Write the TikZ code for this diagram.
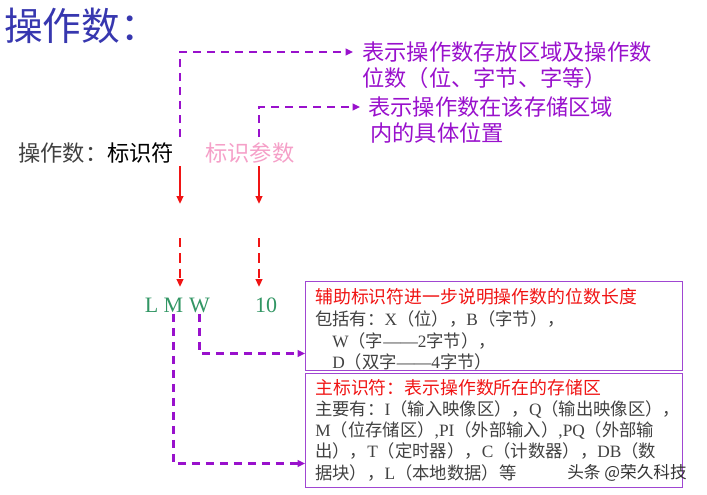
\documentclass[tikz,border=0pt]{standalone}
\usepackage{fontspec}
\setmainfont{Noto Sans CJK SC}
\newfontfamily\latf{Liberation Serif}
\usetikzlibrary{arrows.meta,calc}
\definecolor{ttlblue}{RGB}{55,55,175}
\definecolor{vio}{RGB}{153,17,204}
\definecolor{rd}{RGB}{240,20,20}
\definecolor{pk}{RGB}{245,160,200}
\definecolor{gr}{RGB}{50,150,100}
\definecolor{boxc}{RGB}{160,70,210}
\definecolor{txtg}{RGB}{65,65,65}
\newcommand{\LT}[1]{{\latf #1}}
\begin{document}
\begin{tikzpicture}[x=0.75pt,y=-0.75pt,
  vioarrow/.style={vio, line width=1.6pt, dash pattern=on 6pt off 4.5pt, -{Triangle[length=5.5pt,width=5pt]}},
  redarrow/.style={rd, line width=1.5pt, -{Triangle[length=6pt,width=5pt]}},
  reddash/.style={redarrow, dash pattern=on 7pt off 4.5pt},
  ptxt/.style={anchor=west, inner sep=0, text=vio, font=\fontsize{16.7}{20}\selectfont},
  gtxt/.style={inner sep=1pt, text=gr, font=\latf\fontsize{16.5}{20}\selectfont},
  btxt/.style={anchor=west, inner sep=0, text=txtg, font=\fontsize{13}{16}\selectfont},
  rtxt/.style={anchor=west, inner sep=0, text=rd, font=\fontsize{13.4}{16}\selectfont},
  boxn/.style={draw=boxc, line width=1.1pt, anchor=north west, inner sep=0, minimum width=282.75pt}
]
\useasboundingbox (0,0) rectangle (707,494);
% title
\node[anchor=west, inner sep=0, text=ttlblue, font=\fontsize{29}{34}\selectfont] (title) at (4,26) {操作数：};
% purple texts
\node[ptxt] (t1a) at (362,52) {表示操作数存放区域及操作数};
\node[ptxt] (t1b) at (362,78) {位数（位、字节、字等）};
\node[ptxt] (t2a) at (368,107) {表示操作数在该存储区域};
\node[ptxt] (t2b) at (370,133) {内的具体位置};
% label line
\node[anchor=west, inner sep=0, font=\fontsize{16.7}{20}\selectfont] (lab) at (18,153) {\textcolor{txtg}{操作数：}标识符};
\node[anchor=west, inner sep=0, text=pk, font=\fontsize{16.7}{20}\selectfont] (par) at (205,153) {标识参数};
% coordinates
\coordinate (c1) at (180,137);
\coordinate (c2) at (259,137);
\coordinate (r1s) at (180,166);
\coordinate (r1e) at (180,204);
\coordinate (r1ds) at (180,238);
\coordinate (r1de) at (180,287);
\coordinate (r2s) at (259,166);
\coordinate (r2e) at (259,204);
\coordinate (r2ds) at (259,238);
\coordinate (r2de) at (259,287);
% purple arrows to top texts
\draw[vioarrow] (c1) |- ($(t1a.west)+(-9,0)$);
\draw[vioarrow] (c2) |- ($(t2a.west)+(-8,0)$);
% red arrows
\draw[redarrow] (r1s) -- (r1e);
\draw[reddash] (r1ds) -- (r1de);
\draw[redarrow] (r2s) -- (r2e);
\draw[reddash] (r2ds) -- (r2de);
% LMW 10
\node[gtxt] (L) at (151.5,305) {L};
\node[gtxt] (M) at (173.5,305) {M};
\node[gtxt] (W) at (199.5,305) {W};
\node[gtxt] (ten) at (266,305) {10};
% boxes
\node[boxn, minimum height=66.75pt] (box1) at (305,281) {};
\node[boxn, minimum height=85.5pt] (box2) at (305,373) {};
% box1 texts
\node[rtxt] (b1l1) at (315,297) {辅助标识符进一步说明操作数的位数长度};
\node[btxt] (b1l2) at (315,319) {包括有：\LT{X}（位），\LT{B}（字节），};
\node[btxt] (b1l3) at (332,341) {\LT{W}（字\LT{——2}字节），};
\node[btxt] (b1l4) at (332,362) {\LT{D}（双字\LT{——4}字节）};
% box2 texts
\node[rtxt] (b2l1) at (315,388) {主标识符：表示操作数所在的存储区};
\node[btxt] (b2l2) at (315,409) {主要有：\LT{I}（输入映像区），\LT{Q}（输出映像区），};
\node[btxt] (b2l3) at (315,430) {\LT{M}（位存储区）\LT{,PI}（外部输入）\LT{,PQ}（外部输};
\node[btxt] (b2l4) at (315,451) {出），\LT{T}（定时器），\LT{C}（计数器），\LT{DB}（数};
\node[btxt] (b2l5) at (315,473) {据块），\LT{L}（本地数据）等};
% arrows to boxes
\draw[vioarrow] (W.south) |- ($(box1.south west)+(0,-18)$);
\draw[vioarrow] (M.south) |- ($(box2.south west)+(0,-25)$);
% watermark
\node[inner sep=0, text=black!80, font=\fontsize{12.5}{15}\selectfont] (wm) at (627,473) {头条 @荣久科技};
\end{tikzpicture}
\end{document}
